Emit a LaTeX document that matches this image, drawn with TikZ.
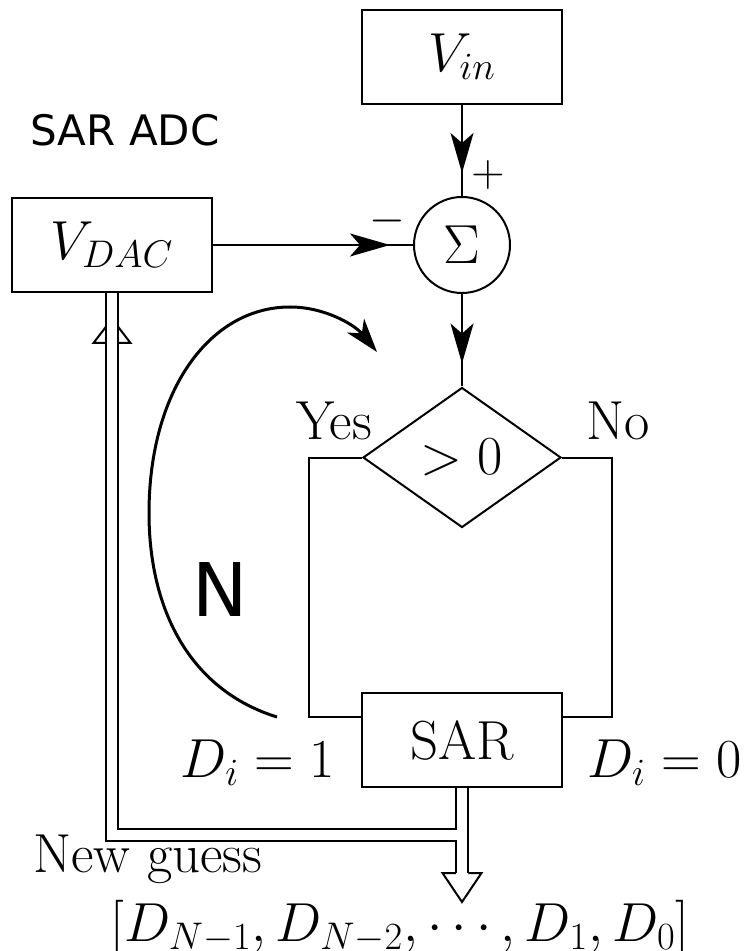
\RequirePackage{fix-cm}
\documentclass[tikz,border=0pt]{standalone}
\usepackage{fontspec}
\newfontfamily\captionfont{DejaVu Sans}
\usepackage{tikz}
\usetikzlibrary{arrows.meta,calc,shapes.geometric,decorations.markings}

\begin{document}
\begin{tikzpicture}[
  x=0.5pt, y=-0.5pt,
  every node/.style={font=\fontsize{27.5}{33}\selectfont},
  block/.style={draw, line width=1pt, minimum width=100pt, minimum height=47pt, inner sep=0pt},
  sum/.style={draw, circle, line width=1pt, minimum size=48pt, inner sep=0pt},
  test/.style={draw, diamond, line width=1pt, minimum width=99pt, minimum height=70pt, inner sep=0pt},
  lbl/.style={inner sep=0pt},
  sign/.style={inner sep=0pt, font=\fontsize{23}{28}\selectfont},
  sans/.style={inner sep=0pt, font=\captionfont\fontsize{#1}{#1}\selectfont},
  wire/.style={line width=1pt},
  arrow/.style={wire, postaction={decorate}, decoration={markings, mark=at position -11.5pt with {\arrow{Stealth[length=20pt, width=11.5pt, inset=5pt]}}}},
  bus/.style={double, line width=1pt, double distance=5.25pt},
  roundtrip/.style={line width=1.5pt, -{Stealth[length=17pt, width=11pt, inset=5pt]}}
]
\useasboundingbox (0,0) rectangle (753,951);
\node[sans=21, anchor=west] (title) at (30,130) {SAR ADC};
\node[block] (vin) at (462,57) {$V_{in}$};
\node[sum] (sum) at (462,245) {$\Sigma$};
\node[block] (dac) at (112,245) {$V_{DAC}$};
\node[test] (test) at (462,457.5) {$>0$};
\node[block] (sar) at (462,740) {SAR};
\node[sign] (plus) at (488,175) {$+$};
\node[sign] (minus) at (387,221) {$-$};
\node[lbl, anchor=base] (yes) at (334,439) {Yes};
\node[lbl, anchor=base] (no) at (618,439) {No};
\node[lbl, anchor=base east] (one) at (335,777) {$D_i=1$};
\node[lbl, anchor=base west] (zero) at (587,777) {$D_i=0$};
\node[lbl, anchor=base west] (guess) at (33,872) {New guess};
\node[lbl, anchor=base west] (bits) at (110,941) {$[D_{N-1}, D_{N-2}, \cdots, D_1, D_0]$};
\node[sans=37] (count) at (220,590) {N};
\draw[arrow] (vin) -- (sum);
\draw[arrow] (dac) -- (sum);
\draw[arrow] (sum) -- (test);
\draw[wire] (test.west) -- ++(-53,0) |- ([yshift=11.5pt]sar.west);
\draw[wire] (test.east) -- ++(50,0) |- ([yshift=11.5pt]sar.east);
\coordinate (busjoin) at (sar.south |- 0,835);
\coordinate (outtip) at (sar.south |- 0,873);
\coordinate (intip) at (dac.south |- 0,343);
\draw[bus] (sar.south) -- (outtip) (dac.south) |- (busjoin);
\draw[wire] (outtip) +(-6.25,0) -- +(-19.5,0) -- +(0,29) -- +(19.5,0) -- +(6.25,0);
\draw[wire] (intip) +(-6.25,0) -- +(-18.5,0) -- +(-6.25,-16) (intip) +(6.25,0) -- +(18.5,0) -- +(6.25,-16);
\coordinate (loopfrom) at (277,717);
\coordinate (loopto) at (377,352);
\draw[roundtrip] (loopfrom) .. controls (190,690) and (149,610) .. (149,513) .. controls (149,390) and (210,307) .. (290,307) .. controls (325,307) and (355,325) .. (loopto);
\end{tikzpicture}
\end{document}
